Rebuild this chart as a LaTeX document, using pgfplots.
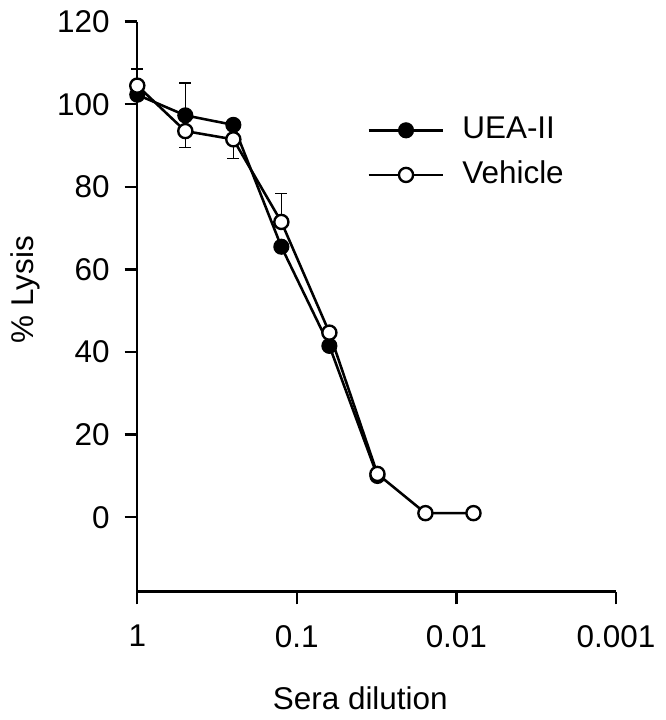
\documentclass[border=0pt]{standalone}
\usepackage{fontspec}
\setmainfont{Liberation Sans}
\usepackage{pgfplots}
\pgfplotsset{compat=1.18}
\begin{document}
\fontsize{16}{19}\selectfont
\begin{tikzpicture}
\begin{axis}[
  scale only axis,
  width=243.5pt, height=290pt,
  xmode=log, x dir=reverse,
  xmin=0.001, xmax=1,
  ymin=-18, ymax=120,
  axis x line*=bottom, axis y line*=left,
  axis line style={line width=1.2pt, -},
  every tick/.style={line width=1.2pt, black},
  tick align=outside, major tick length=6.5pt,
  minor tick num=0, xminorticks=false,
  xtick={1,0.1,0.01,0.001},
  xticklabels={1,0.1,0.01,0.001},
  ytick={0,20,...,120},
  /pgf/number format/assume math mode=true,
  ticklabel style={font=\fontsize{16}{19}\selectfont},
  xticklabel style={yshift=-5pt},
  yticklabel style={xshift=-2pt},
  label style={font=\fontsize{16}{19}\selectfont},
  xlabel={Sera dilution},
  ylabel={\% Lysis},
  xlabel style={at={(ticklabel cs:0.466)}, anchor=north, yshift=-9pt},
  ylabel style={at={(ticklabel cs:0.53)}, anchor=south, yshift=-2pt},
  legend style={draw=none, fill=none, at={(rel axis cs:0.48,0.84)}, anchor=north west,
    font=\fontsize{16}{19}\selectfont, row sep=5pt, inner sep=0pt},
  legend cell align=left,
  legend image code/.code={%
    \draw[mark repeat=2,mark phase=2] plot coordinates {(0pt,0pt)(19pt,0pt)(38pt,0pt)};
    \path (45pt,0pt);},
  clip=false,
]
\addplot[black, line width=1.3pt, mark=*, mark size=3.6pt,
  mark options={fill=black, line width=1pt},
  error bars/.cd, y dir=both, y explicit,
  error bar style={line width=0.8pt, black},
  error mark options={line width=0.8pt, mark size=3pt, rotate=90}]
coordinates {
(1,102.3)
(0.5,97.3) += (0,7.9)
(0.25,95)
(0.125,65.5)
(0.0625,41.5)
(0.03125,10)
};
\addlegendentry{UEA-II}
\addplot[black, line width=1.3pt, mark=*, mark size=3.6pt,
  mark options={fill=white, line width=1.2pt},
  error bars/.cd, y dir=both, y explicit,
  error bar style={line width=0.8pt, black},
  error mark options={line width=0.8pt, mark size=3pt, rotate=90}]
coordinates {
(1,104.5) += (0,4)
(0.5,93.5) -= (0,4)
(0.25,91.5) -= (0,4.6)
(0.125,71.5) += (0,6.9)
(0.0625,44.7)
(0.03125,10.5)
(0.015625,1)
(0.0078125,1)
};
\addlegendentry{Vehicle}
\end{axis}
\end{tikzpicture}
\end{document}
